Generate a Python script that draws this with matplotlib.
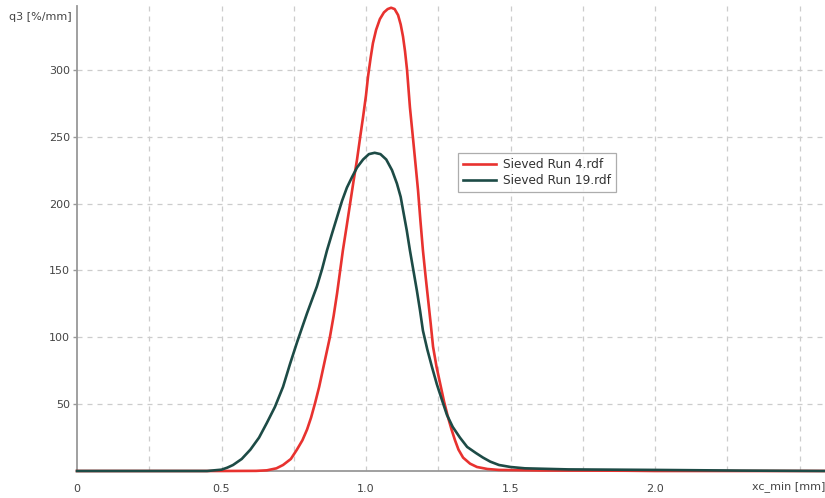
import matplotlib
matplotlib.use("Agg")
import matplotlib.pyplot as plt

# courbes : q3 en fonction de xc_min
x_run4 = [0.0, 0.5, 0.62, 0.657, 0.69, 0.713, 0.74, 0.761, 0.78, 0.796, 0.81, 0.824,
          0.838, 0.851, 0.863, 0.875, 0.888, 0.90, 0.91, 0.92, 0.933, 0.945, 0.957,
          0.969, 0.98, 0.99, 1.0, 1.007, 1.016, 1.024, 1.035, 1.048, 1.062, 1.075,
          1.087, 1.099, 1.111, 1.12, 1.128, 1.135, 1.142, 1.152, 1.163, 1.172, 1.18,
          1.188, 1.197, 1.206, 1.215, 1.224, 1.232, 1.244, 1.256, 1.27, 1.284, 1.296,
          1.308, 1.32, 1.336, 1.36, 1.384, 1.42, 1.46, 1.6, 1.9, 2.0, 2.6]
y_run4 = [0.0, 0.0, 0.1, 0.5, 2.0, 4.5, 9.0, 16, 23, 31, 40, 51,
          63, 76, 88, 100, 116, 133, 149, 165, 183, 200, 217,
          233, 250, 265, 281, 295, 309, 320, 330, 338, 343, 345.5,
          346.5, 345.5, 341, 334, 325, 314, 300, 272, 248, 228, 210,
          188, 165, 146, 128, 110, 93, 78, 66, 52, 40, 31,
          23, 16, 10, 5.5, 3.0, 1.5, 0.8, 0.4, 0.2, 0.0, 0.0]

x_run19 = [0.0, 0.45, 0.5, 0.52, 0.54, 0.57, 0.60, 0.63, 0.657, 0.685, 0.713, 0.737,
           0.761, 0.78, 0.796, 0.813, 0.83, 0.848, 0.865, 0.883, 0.90, 0.917, 0.934,
           0.952, 0.969, 0.99, 1.01, 1.03, 1.05, 1.07, 1.09, 1.107, 1.12, 1.13, 1.141,
           1.152, 1.164, 1.176, 1.187, 1.197, 1.212, 1.228, 1.245, 1.263, 1.28, 1.30,
           1.325, 1.35, 1.38, 1.405, 1.43, 1.46, 1.5, 1.55, 1.7, 2.0, 2.3, 2.6]
y_run19 = [0.0, 0.0, 1.0, 2.5, 4.5, 9.0, 16, 25, 36, 48, 63, 80,
           96, 108, 118, 128, 138, 151, 165, 178, 190, 202, 212,
           220, 227, 233, 237, 238, 237, 233, 225, 215, 205, 193, 180,
           165, 150, 135, 120, 105, 91, 78, 65, 53, 42, 33,
           25, 18, 13.5, 10, 7.0, 4.5, 3.0, 2.0, 1.2, 0.8, 0.3, 0.0]

xticks = [0, 0.5, 1.0, 1.5, 2.0]
xtick_labels = ['0', '0.5', '1.0', '1.5', '2.0']
yticks = [50, 100, 150, 200, 250, 300]

fig = plt.figure(figsize=(8.25, 4.98), dpi=100)
ax = fig.add_axes([77 / 825, 27 / 498, 748 / 825, 465 / 498])

ax.plot(x_run4, y_run4, color='#e8322f', lw=1.9, label='Sieved Run 4.rdf', clip_on=False,
        zorder=3, solid_joinstyle='round')
ax.plot(x_run19, y_run19, color='#1d4b46', lw=1.9, label='Sieved Run 19.rdf', clip_on=False,
        zorder=3, solid_joinstyle='round')

ax.set_xlim(0, 748 / 289)
ax.set_ylim(0, 465 / 1.337)

# grille : verticale tous les 0.25, horizontale tous les 50
for gx in [0.25, 0.5, 0.75, 1.0, 1.25, 1.5, 1.75, 2.0, 2.25, 2.5]:
    ax.axvline(gx, color='#cccccc', lw=0.9, ls=(0, (4, 4)), zorder=1)
for gy in yticks:
    ax.axhline(gy, color='#cccccc', lw=0.9, ls=(0, (4, 4)), zorder=1)

ax.set_xticks(xticks)
ax.set_xticklabels(xtick_labels)
ax.set_yticks(yticks)
ax.tick_params(axis='x', length=0, pad=9, labelsize=8, colors='#444444')
ax.tick_params(axis='y', length=3, width=1, pad=2, labelsize=8, colors='#444444')
ax.tick_params(axis='y', color='#999999')

for s in ['top', 'right']:
    ax.spines[s].set_visible(False)
for s in ['left', 'bottom']:
    ax.spines[s].set_color('#999999')
    ax.spines[s].set_linewidth(1.3)

ax.text(-0.007, 1.0 - 11 / 465, 'q3 [%/mm]', transform=ax.transAxes, ha='right', va='center',
        fontsize=8, color='#444444')
ax.text(1.0, -16 / 465, 'xc_min [mm]', transform=ax.transAxes, ha='right', va='center',
        fontsize=8, color='#444444')

leg = ax.legend(loc='upper left', bbox_to_anchor=(0.509, 0.684), fontsize=8.7, frameon=True,
                fancybox=False, borderpad=0.45, handlelength=2.7, labelspacing=0.2,
                handletextpad=0.6, borderaxespad=0)
leg.get_frame().set_edgecolor('#999999')
leg.get_frame().set_linewidth(0.9)
for t in leg.get_texts():
    t.set_color('#333333')

fig.savefig('out.png', dpi=100)
